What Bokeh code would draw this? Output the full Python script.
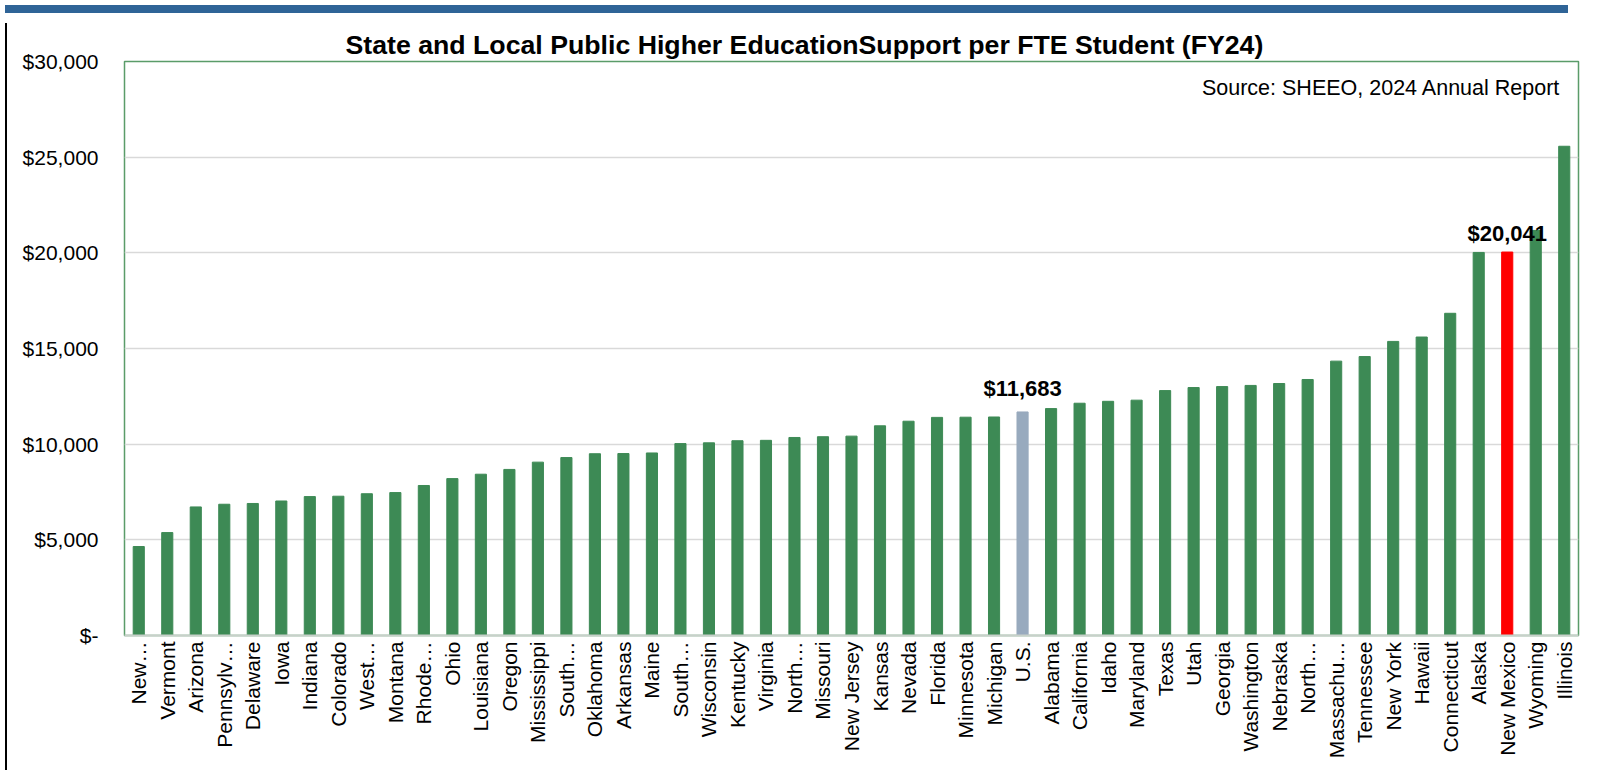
import math
from bokeh.plotting import figure
from bokeh.models import (ColumnDataSource, FactorRange, Range1d, FixedTicker,
                          CustomJSTickFormatter, Label, Div)
from bokeh.layouts import column, row
from bokeh.embed import file_html
from bokeh.resources import INLINE
from bokeh.core.properties import value

# ---- data ----
# axis labels as shown (truncated) in the original chart; a zero-width space
# keeps the two "South…" and two "North…" categories distinct
states = ["New…", "Vermont", "Arizona", "Pennsylv…", "Delaware", "Iowa",
          "Indiana", "Colorado", "West…", "Montana", "Rhode…", "Ohio",
          "Louisiana", "Oregon", "Mississippi", "South…", "Oklahoma", "Arkansas",
          "Maine", "South…\u200b", "Wisconsin", "Kentucky", "Virginia", "North…",
          "Missouri", "New Jersey", "Kansas", "Nevada", "Florida", "Minnesota", "Michigan",
          "U.S.", "Alabama", "California", "Idaho", "Maryland", "Texas", "Utah", "Georgia",
          "Washington", "Nebraska", "North…\u200b", "Massachu…", "Tennessee",
          "New York", "Hawaii", "Connecticut", "Alaska", "New Mexico", "Wyoming", "Illinois"]

support = [4650, 5380, 6720, 6860, 6900, 7030,
           7260, 7280, 7410, 7470, 7840, 8200,
           8430, 8680, 9060, 9300, 9500, 9510,
           9540, 10030, 10070, 10180, 10200, 10350,
           10390, 10420, 10960, 11200, 11400, 11410, 11420,
           11683, 11860, 12140, 12240, 12300, 12800, 12960, 13010,
           13070, 13170, 13380, 14340, 14580,
           15370, 15600, 16840, 20020, 20041, 21170, 25570]

y_ticks = [0, 5000, 10000, 15000, 20000, 25000, 30000]

title_text = "State and Local Public Higher EducationSupport per FTE Student (FY24)"
source_text = "Source: SHEEO, 2024 Annual Report"

# ---- styles ----
GREEN = "#3D8A55"
US_COLOR = "#98AABE"
NM_COLOR = "#FF0000"
FONT = "Liberation Sans"

colors = [US_COLOR if s == "U.S." else NM_COLOR if s == "New Mexico" else GREEN
          for s in states]
src = ColumnDataSource(dict(state=states, val=support, color=colors))

p = figure(x_range=FactorRange(*states, range_padding=0),
           y_range=Range1d(0, 30000),
           width=1582, height=747,
           output_backend="svg", toolbar_location=None,
           min_border_left=112, min_border_right=16,
           min_border_top=43, min_border_bottom=130)

p.vbar(x="state", top="val", width=0.39, color="color", source=src)

# title
p.title.text = title_text
p.title.text_font = FONT
p.title.text_font_style = "bold"
p.title.text_font_size = "26.7px"
p.title.text_color = "black"
p.title.align = "left"
p.title.offset = 221
p.title.standoff = 4

# y axis
p.yaxis.ticker = FixedTicker(ticks=y_ticks)
p.yaxis.formatter = CustomJSTickFormatter(code="""
    if (tick == 0) { return "$-"; }
    return "$" + Math.round(tick).toString().replace(/\\B(?=(\\d{3})+(?!\\d))/g, ",");
""")
p.yaxis.major_label_text_font = FONT
p.yaxis.major_label_text_font_size = "21px"
p.yaxis.major_label_text_color = "black"
p.yaxis.axis_line_color = None
p.yaxis.major_tick_line_color = None
p.yaxis.minor_tick_line_color = None
p.yaxis.major_label_standoff = 20

# x axis
p.xaxis.major_label_orientation = math.pi / 2
p.xaxis.major_label_text_font = FONT
p.xaxis.major_label_text_font_size = "21px"
p.xaxis.major_label_text_color = "black"
p.xaxis.major_label_standoff = 6
p.xaxis.major_tick_line_color = None
p.xaxis.major_tick_out = 0
p.xaxis.major_tick_in = 0
p.xaxis.axis_line_color = "#C8D0CA"
p.xaxis.axis_line_width = 2

# grid and frame
p.xgrid.grid_line_color = None
p.ygrid.ticker = FixedTicker(ticks=y_ticks)
p.ygrid.grid_line_color = "#D9D9D9"
p.ygrid.grid_line_width = 1.5
p.outline_line_color = "#5A9C69"
p.outline_line_width = 1.5
p.outline_line_alpha = 1.0

# value labels above highlighted bars
us_i = states.index("U.S.")
nm_i = states.index("New Mexico")
p.text(x=[states[us_i]], y=[support[us_i]], text=[f"${support[us_i]:,.0f}"],
       text_font=value(FONT), text_font_style="bold", text_font_size="22px",
       text_align="center", text_baseline="alphabetic", y_offset=-23, color="black")
p.text(x=[states[nm_i]], y=[support[nm_i]], text=[f"${support[nm_i]:,.0f}"],
       text_font=value(FONT), text_font_style="bold", text_font_size="22px",
       text_align="center", text_baseline="alphabetic", y_offset=-19, color="black")

# source note
p.add_layout(Label(x=len(states), y=30000, x_offset=-18, y_offset=-14,
                   text=source_text, text_font=FONT, text_font_size="21.5px",
                   text_align="right", text_baseline="top", text_color="black"))

banner = Div(text="", width=1563, height=8,
             styles={"background-color": "#2F6497"})
edge = Div(text="", width=2, height=747, styles={"background-color": "black"})

layout = column(banner, row(edge, p))

open("out.html", "w").write(file_html(layout, INLINE))
